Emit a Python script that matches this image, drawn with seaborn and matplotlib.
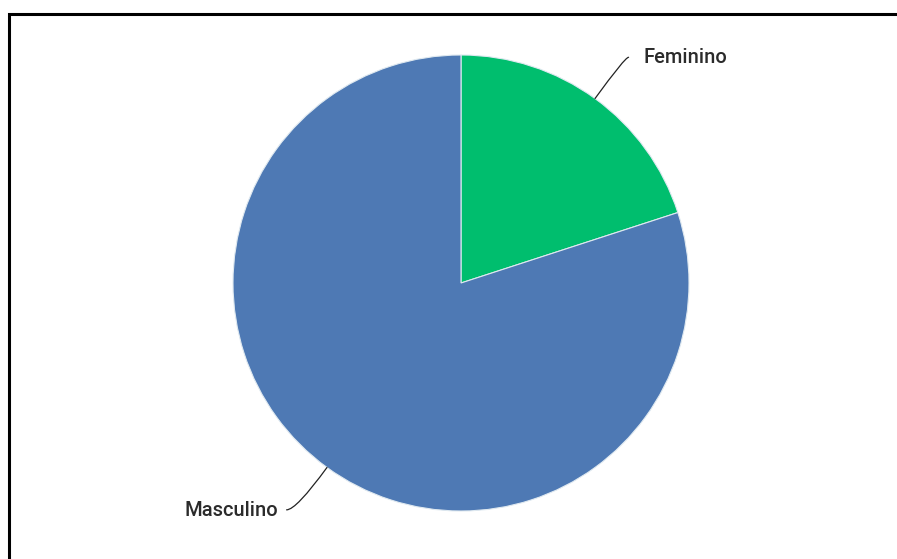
import matplotlib
matplotlib.use("Agg")
import matplotlib.pyplot as plt
import seaborn as sns
import numpy as np
from matplotlib.patches import Rectangle

sns.set_theme(style="white")
plt.rcParams["font.family"] = ["Roboto", "DejaVu Sans"]

# Distribution by sex (percent)
categories = ["Feminino", "Masculino"]
values = [20, 80]
colors = ["#00BE6E", "#4E79B4"]

W, H = 897, 559
fig = plt.figure(figsize=(W / 100, H / 100), dpi=100)
fig.patch.set_facecolor("white")

# frame line along the top and left edges
fig.patches.append(Rectangle((9 / W, -0.1), 1.2, (H - 14) / H + 0.1,
                             transform=fig.transFigure, fill=False,
                             edgecolor="black", linewidth=2.2, zorder=5))

cx, cy, r = 461, 283, 228
ax = fig.add_axes([(cx - r) / W, (H - cy - r) / H, 2 * r / W, 2 * r / H])

wedges, _ = ax.pie(values, colors=colors, startangle=90, counterclock=False,
                   radius=1.0, center=(0, 0), frame=False,
                   wedgeprops=dict(edgecolor="#dfe9f0", linewidth=0.8))
ax.set_xlim(-1, 1)
ax.set_ylim(-1, 1)
ax.set_aspect("equal")
ax.axis("off")

# outside labels with leader lines that turn horizontal at the label
label_pos = {
    "Feminino": ((0.80, 0.99), "left", (0.735, 0.99)),
    "Masculino": ((-0.80, -1.0), "right", (-0.765, -0.995)),
}
for w, name in zip(wedges, categories):
    mid = (w.theta1 + w.theta2) / 2
    ang = np.deg2rad(mid)
    edge = (np.cos(ang) * 1.0, np.sin(ang) * 1.0)
    (tx, ty), ha, end = label_pos[name]
    ax.annotate("", xy=edge, xytext=end,
                arrowprops=dict(arrowstyle="-", color="#222222", lw=0.9,
                                connectionstyle=f"angle3,angleA=0,angleB={mid}",
                                shrinkA=0, shrinkB=0),
                annotation_clip=False)
    ax.text(tx, ty, name, ha=ha, va="center", fontsize=14.5,
            fontweight="medium", color="#2b2b2b", clip_on=False)

fig.savefig("out.png", dpi=100, facecolor="white")
